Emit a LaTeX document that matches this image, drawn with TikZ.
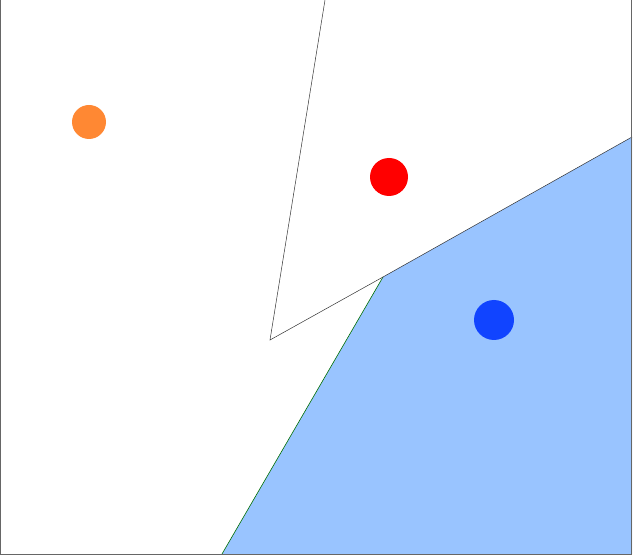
\documentclass[tikz,border=0pt]{standalone}
\begin{document}
\begin{tikzpicture}[x=1pt,y=-1pt,
  frameline/.style={draw=black!60, line width=1.2pt},
  thinline/.style={draw=black!80, line width=0.5pt},
  dot/.style={circle, inner sep=0pt, minimum size=#1}]
\useasboundingbox (0,0) rectangle (633,556);
\coordinate (p1) at (222,554);
\coordinate (p2) at (383,277);
\coordinate (p3) at (632,137);
\coordinate (p4) at (632,554);
\fill[fill={rgb,255:red,153;green,196;blue,255}] (p1) -- (p2) -- (p3) -- (p4) -- cycle;
\draw[draw={rgb,255:red,0;green,110;blue,0}, line width=0.6pt] (p1) -- (p2);
\coordinate (a) at (325,0);
\coordinate (b) at (270,340);
\draw[thinline] (a) -- (b) -- (p2) -- (p3);
\draw[frameline] (0.6,0) -- (0.6,554.4) -- (631.6,554.4) -- (631.6,0);
\node[dot=34pt, fill={rgb,255:red,255;green,136;blue,51}] (orange) at (89,122) {};
\node[dot=38pt, fill=red] (red) at (389,177) {};
\node[dot=40pt, fill={rgb,255:red,17;green,68;blue,255}] (blue) at (494,320) {};
\end{tikzpicture}
\end{document}
